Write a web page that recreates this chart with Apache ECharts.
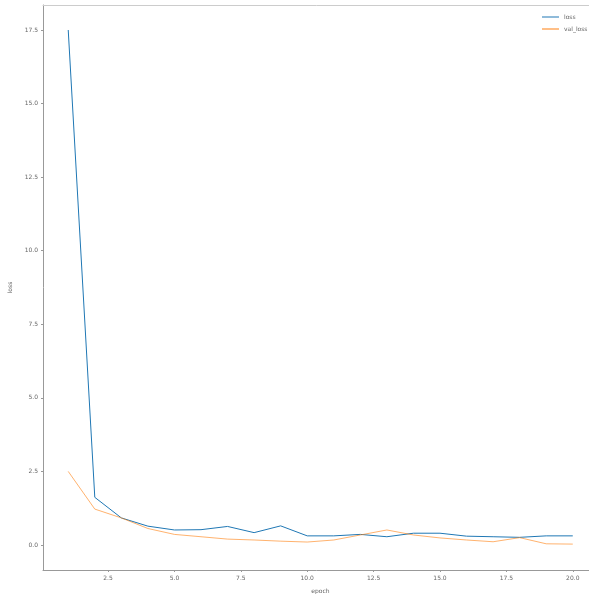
<!DOCTYPE html>
<html>
<head>
<meta charset="utf-8">
<script src="https://cdn.jsdelivr.net/npm/echarts@6/dist/echarts.min.js"></script>
<style>
  html, body { margin: 0; padding: 0; background: #fff; }
  #chart { width: 589px; height: 594px; }
</style>
</head>
<body>
<div id="chart"></div>
<script>
// epochs 1..20
const epochs = [1, 2, 3, 4, 5, 6, 7, 8, 9, 10, 11, 12, 13, 14, 15, 16, 17, 18, 19, 20];
const loss = [17.5, 1.62, 0.92, 0.64, 0.51, 0.52, 0.63, 0.42, 0.65, 0.31, 0.31, 0.36, 0.28, 0.40, 0.40, 0.30, 0.28, 0.26, 0.31, 0.31];
const valLoss = [2.5, 1.22, 0.92, 0.56, 0.36, 0.28, 0.20, 0.17, 0.13, 0.10, 0.17, 0.34, 0.51, 0.34, 0.24, 0.17, 0.11, 0.25, 0.04, 0.03];
const xTicks = [2.5, 5, 7.5, 10, 12.5, 15, 17.5, 20];
const yTicks = [0, 2.5, 5, 7.5, 10, 12.5, 15, 17.5];

const font = 'DejaVu Sans';
const chart = echarts.init(document.getElementById('chart'));

chart.setOption({
    animation: false,
    // plot area runs past the right edge of the picture, like the cropped original
    grid: {
        left: 43, top: 5, width: 555, height: 565,
        outerBoundsMode: 'none', containLabel: false
    },
    legend: {
        orient: 'vertical',
        left: 537, top: 9,
        itemWidth: 17, itemHeight: 1, itemGap: 6,
        icon: 'rect',
        textStyle: { fontFamily: font, fontSize: 6, color: '#666' },
        data: ['loss', 'val_loss']
    },
    xAxis: [
        {
            type: 'value',
            min: 0.05, max: 20.95,
            name: 'epoch', nameLocation: 'middle', nameGap: 18,
            nameTextStyle: { fontFamily: font, fontSize: 6, color: '#666' },
            axisLine: { onZero: false, lineStyle: { color: '#999', width: 1 } },
            axisTick: { show: true, length: 2, customValues: xTicks, lineStyle: { color: '#999' } },
            axisLabel: {
                customValues: xTicks, margin: 5,
                fontFamily: font, fontSize: 6, color: '#666',
                formatter: v => v.toFixed(1)
            },
            splitLine: { show: false }
        },
        {
            // top spine only
            type: 'value', position: 'top',
            min: 0.05, max: 20.95,
            axisLine: { show: true, onZero: false, lineStyle: { color: '#ccc', width: 1 } },
            axisTick: { show: false },
            axisLabel: { show: false },
            splitLine: { show: false }
        }
    ],
    yAxis: {
        type: 'value',
        min: -0.85, max: 18.35,
        name: 'loss', nameLocation: 'middle', nameGap: 26,
        nameTextStyle: { fontFamily: font, fontSize: 6, color: '#666' },
        axisLine: { show: true, lineStyle: { color: '#999', width: 1 } },
        axisTick: { show: true, length: 2, customValues: yTicks, lineStyle: { color: '#999' } },
        axisLabel: {
            customValues: yTicks, margin: 5,
            fontFamily: font, fontSize: 6, color: '#666',
            formatter: v => v.toFixed(1)
        },
        splitLine: { show: false }
    },
    series: [
        {
            name: 'loss', type: 'line', showSymbol: false,
            data: epochs.map((e, i) => [e, loss[i]]),
            lineStyle: { color: '#1f77b4', width: 1 },
            itemStyle: { color: '#1f77b4' }
        },
        {
            name: 'val_loss', type: 'line', showSymbol: false,
            data: epochs.map((e, i) => [e, valLoss[i]]),
            lineStyle: { color: '#ff7f0e', width: 1, opacity: 0.6 },
            itemStyle: { color: '#ff7f0e' }
        }
    ]
});
</script>
</body>
</html>
